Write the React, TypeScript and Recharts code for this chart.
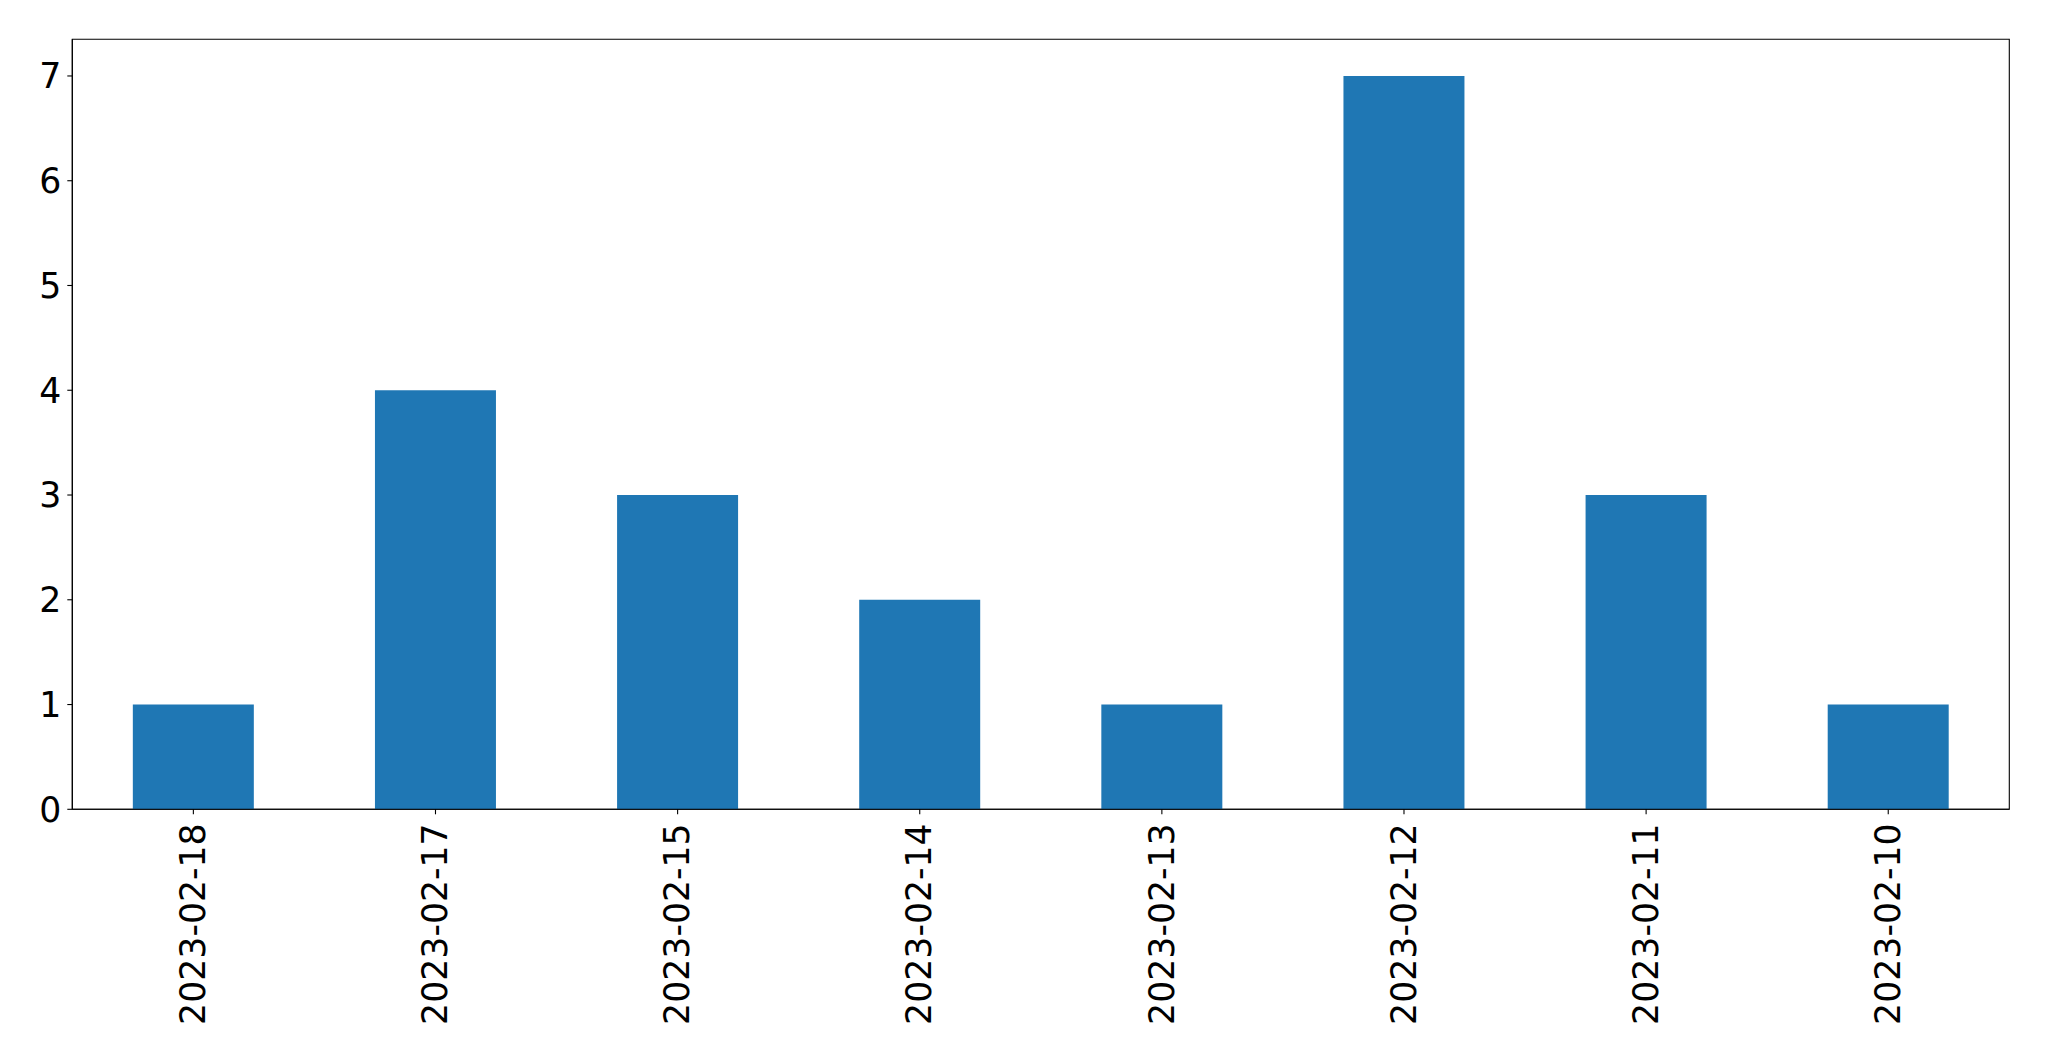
import React from "react";
import { BarChart, Bar, XAxis, YAxis, ReferenceArea } from "recharts";

const dates = [
  "2023-02-18",
  "2023-02-17",
  "2023-02-15",
  "2023-02-14",
  "2023-02-13",
  "2023-02-12",
  "2023-02-11",
  "2023-02-10",
];
const counts = [1, 4, 3, 2, 1, 7, 3, 1];
const yTicks = [0, 1, 2, 3, 4, 5, 6, 7];
const Y_MAX = 7.35;

const data = dates.map((d, i) => ({ date: d, count: counts[i] }));

const FONT = "'DejaVu Sans', sans-serif";
const FS = 34.7;

function DateTick(props: any) {
  const { x, y, payload } = props;
  return (
    <g transform={`translate(${x},${y + 7}) rotate(-90)`}>
      <text x={0} y={0} dy={11.7} textAnchor="end" fill="#000" fontSize={FS} fontFamily={FONT}>
        {payload.value}
      </text>
    </g>
  );
}

export default function App() {
  return (
    <div style={{ position: "absolute", left: 0, top: 0, width: 2049, height: 1061, background: "#fff" }}>
      <BarChart
        width={2049}
        height={1061}
        data={data}
        margin={{ top: 39.3, right: 39.7, left: 0, bottom: 0 }}
        barCategoryGap="25%"
      >
        <XAxis
          dataKey="date"
          interval={0}
          height={251.7}
          tickSize={5}
          tickMargin={2}
          tick={<DateTick />}
          axisLine={{ stroke: "#000", strokeWidth: 1.1 }}
          tickLine={{ stroke: "#000", strokeWidth: 1.1 }}
        />
        <YAxis
          domain={[0, Y_MAX]}
          ticks={yTicks}
          width={72.3}
          tickSize={5}
          tickMargin={6}
          tick={{ fill: "#000", fontSize: FS, fontFamily: FONT }}
          axisLine={{ stroke: "#000", strokeWidth: 1.1 }}
          tickLine={{ stroke: "#000", strokeWidth: 1.1 }}
          allowDataOverflow
        />
        <Bar dataKey="count" fill="#1f77b4" isAnimationActive={false} />
        <ReferenceArea
          x1={dates[0]}
          x2={dates[dates.length - 1]}
          y1={0}
          y2={Y_MAX}
          fill="none"
          fillOpacity={0}
          stroke="#000"
          strokeWidth={1.1}
          ifOverflow="visible"
        />
      </BarChart>
    </div>
  );
}
